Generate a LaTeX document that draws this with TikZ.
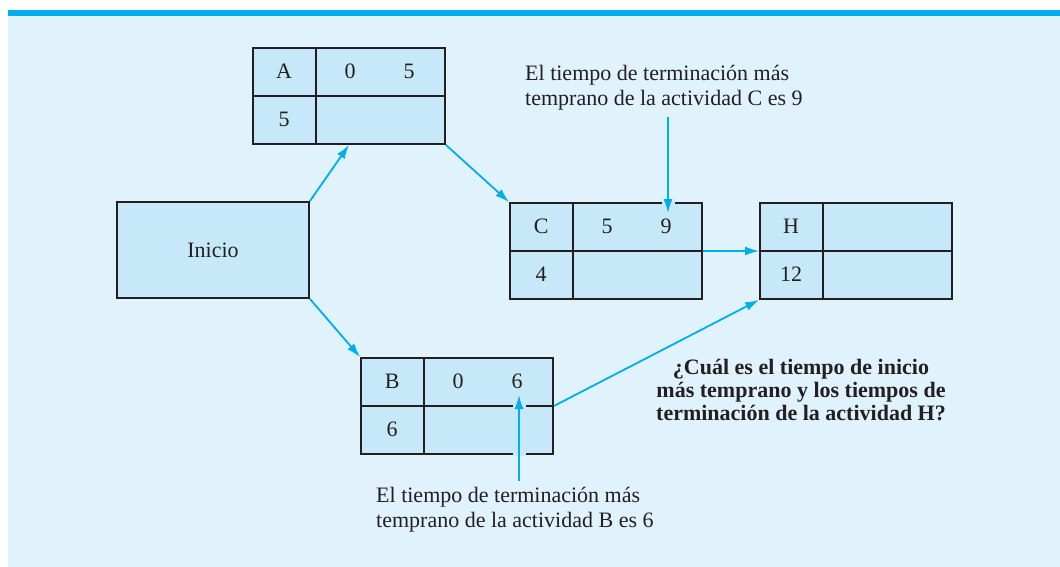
\documentclass[tikz,border=0pt]{standalone}
\usepackage{fontspec}
\setmainfont{Liberation Serif}
\usetikzlibrary{calc,arrows.meta}
\definecolor{bgblue}{HTML}{E0F2FC}
\definecolor{boxblue}{HTML}{C6E8F8}
\definecolor{linkblue}{HTML}{00AEEF}
\definecolor{ink}{HTML}{231F20}
\tikzset{
  actbox/.style={draw=ink,fill=boxblue,line width=1.8pt,minimum width=192pt,
    minimum height=96pt,inner sep=0pt,text=ink},
  cell/.style={inner sep=0pt,text=ink},
  rule/.style={draw=ink,line width=1.8pt},
  link/.style={draw=linkblue,line width=1.8pt,-{Latex[length=14pt,width=9pt]}},
  gap/.style={draw=boxblue,line width=13pt},
}
\begin{document}
\begin{tikzpicture}[x=1pt,y=-1pt,font=\fontsize{22}{25}\selectfont]
  \useasboundingbox (0,0) rectangle (1060,567);
  \fill[bgblue] (8,16) rectangle (1060,567);
  \fill[linkblue] (8,10) rectangle (1060,16);

  % activity boxes
  \node[actbox] (A) at (349,96) {};
  \node[actbox] (Inicio) at (213,250) {Inicio};
  \node[actbox] (C) at (606,251) {};
  \node[actbox] (H) at (856,251) {};
  \node[actbox] (B) at (457,406) {};
  \foreach \n in {A,C,H,B} {
    \draw[rule] ($(\n.north west)+(64,0)$) -- ($(\n.south west)+(64,0)$);
    \draw[rule] (\n.west) -- (\n.east);
  }

  \node[cell] (A-id) at ($(A.north west)+(32,24)$) {A};
  \node[cell] (A-es) at ($(A.north west)+(98,24)$) {0};
  \node[cell] (A-ef) at ($(A.north west)+(157,24)$) {5};
  \node[cell] (A-dur) at ($(A.north west)+(32,72)$) {5};
  \node[cell] (C-id) at ($(C.north west)+(32,24)$) {C};
  \node[cell] (C-es) at ($(C.north west)+(98,24)$) {5};
  \node[cell] (C-ef) at ($(C.north west)+(157,24)$) {9};
  \node[cell] (C-dur) at ($(C.north west)+(32,72)$) {4};
  \node[cell] (H-id) at ($(H.north west)+(32,24)$) {H};
  \node[cell] (H-dur) at ($(H.north west)+(32,72)$) {12};
  \node[cell] (B-id) at ($(B.north west)+(32,24)$) {B};
  \node[cell] (B-es) at ($(B.north west)+(98,24)$) {0};
  \node[cell] (B-ef) at ($(B.north west)+(157,24)$) {6};
  \node[cell] (B-dur) at ($(B.north west)+(32,72)$) {6};

  % precedence arrows
  \draw[link] (Inicio.north east) -- (A.south);
  \draw[link] (A.south east) -- (C.north west);
  \draw[link] (Inicio.south east) -- (B.north west);
  \draw[link] (C.east) -- (H.west);
  \draw[link] (B.east) -- (H.south west);

  % notes
  \node[cell,anchor=west,align=left] (noteC) at (525,88)
    {El tiempo de terminación más\\temprano de la actividad C es 9};
  \coordinate (cTip) at (668,213);
  \draw[gap] ($(cTip |- C.north)+(0,-1.5)$) -- ++(0,3);
  \draw[link] ([yshift=-6pt]noteC.south -| cTip) -- (cTip);

  \node[cell,anchor=west,align=left] (noteB) at (376,510)
    {El tiempo de terminación más\\temprano de la actividad B es 6};
  \coordinate (bTip) at (519,395);
  \draw[gap] ($(bTip |- B.west)+(0,-1.5)$) -- ++(0,3);
  \draw[gap] ($(bTip |- B.south)+(0,-1.5)$) -- ++(0,3);
  \draw[link] ([yshift=6pt]noteB.north -| bTip) -- (bTip);

  \node[cell,align=center,font={\fontsize{22}{23}\selectfont\bfseries}] (ask) at (801,390)
    {¿Cuál es el tiempo de inicio\\más temprano y los tiempos de\\terminación de la actividad H?};
\end{tikzpicture}
\end{document}
